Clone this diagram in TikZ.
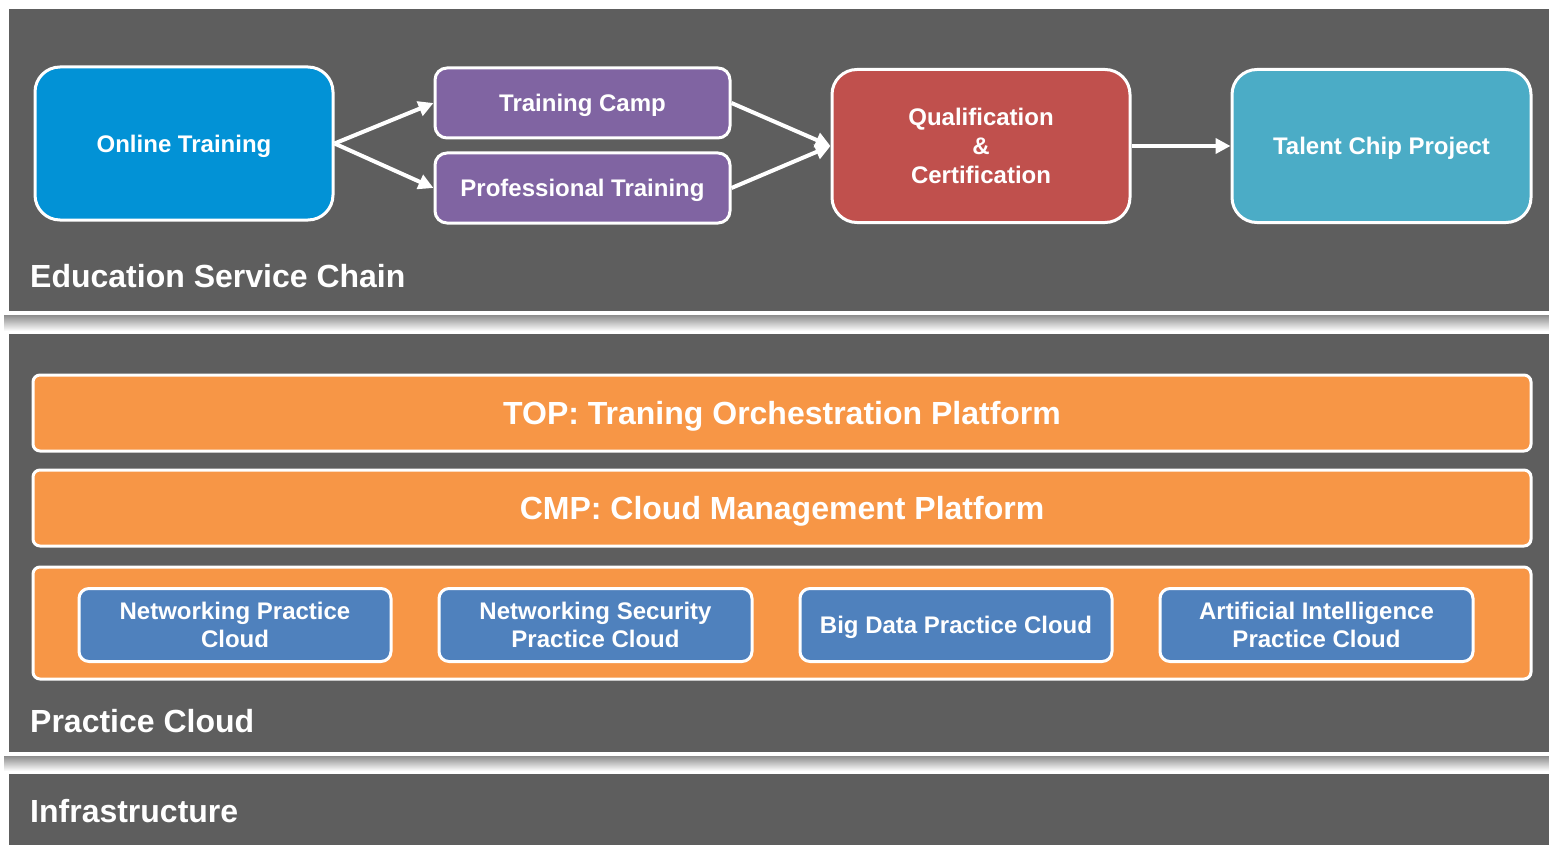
\documentclass[tikz,border=0pt]{standalone}
\usepackage{fontspec}
\setmainfont{Liberation Sans}
\usetikzlibrary{arrows.meta}
\definecolor{panel}{HTML}{5E5E5E}
\definecolor{cblue}{HTML}{0292D6}
\definecolor{cpurple}{HTML}{8064A2}
\definecolor{cred}{HTML}{C0504D}
\definecolor{cteal}{HTML}{4BACC6}
\definecolor{corange}{HTML}{F79646}
\definecolor{cblueb}{HTML}{4F81BD}
\begin{document}
\begin{tikzpicture}[x=1pt,y=-1pt,
  box/.style={draw=white, line width=3pt, text=white, align=center, inner sep=0pt, text depth=0pt,
    font=\fontsize{24}{29}\selectfont\bfseries},
  bigbox/.style={box, rounded corners=25pt, minimum width=298pt, minimum height=153pt},
  purplebox/.style={box, fill=cpurple, rounded corners=12pt, minimum width=295pt, minimum height=70pt},
  orangebar/.style={box, fill=corange, rounded corners=7pt, minimum width=1498pt,
    font=\fontsize{32}{38}\selectfont\bfseries},
  cloudbox/.style={box, fill=cblueb, rounded corners=10pt, minimum width=312pt, minimum height=73pt,
    font=\fontsize{24}{28}\selectfont\bfseries},
  layerlabel/.style={anchor=west, inner sep=0pt, text=white, font=\fontsize{32}{38}\selectfont\bfseries},
  flow/.style={draw=white, line width=4pt, -{Triangle[length=15pt,width=15pt]}},
  panelbg/.style={fill=panel, draw=white, line width=1.2pt},
  shadowband/.style={top color=black!45, bottom color=white}
]
\useasboundingbox (0,0) rectangle (1549,845);
\fill[white] (0,0) rectangle (1549,845);

% layers
\path[panelbg] (8,8) rectangle (1552,312);
\shade[shadowband] (4,315) rectangle (1549,331);
\path[panelbg] (8,333) rectangle (1552,753);
\shade[shadowband] (4,756) rectangle (1549,771);
\path[panelbg] (8,773) rectangle (1552,850);

% education service chain
\node[bigbox, fill=cblue] (ot) at (184,143.5) {Online Training};
\node[purplebox] (tc) at (582.5,103) {Training Camp};
\node[purplebox] (pt) at (582.5,188) {Professional Training};
\node[bigbox, fill=cred] (qc) at (981,146) {Qualification\\\&\\Certification};
\node[bigbox, fill=cteal, minimum width=299pt] (tp) at (1381.5,146) {Talent Chip Project};

\draw[flow] (ot.east) -- (tc.west);
\draw[flow] (ot.east) -- (pt.west);
\draw[flow] (tc.east) -- (qc.west);
\draw[flow] (pt.east) -- (qc.west);
\draw[flow] (qc.east) -- (tp.west);

\node[layerlabel] (l1) at (30,276) {Education Service Chain};

% practice cloud
\node[orangebar, minimum height=76pt] (top) at (782,413) {TOP: Traning Orchestration Platform};
\node[orangebar, minimum height=76pt] (cmp) at (782,508) {CMP: Cloud Management Platform};
\node[orangebar, minimum height=112pt] (pcc) at (782,623) {};
\node[cloudbox] (c1) at (235,625) {Networking Practice\\Cloud};
\node[cloudbox, minimum width=313pt] (c2) at (595.5,625) {Networking Security\\Practice Cloud};
\node[cloudbox] (c3) at (956,625) {Big Data Practice Cloud};
\node[cloudbox, minimum width=313pt] (c4) at (1316.5,625) {Artificial Intelligence\\Practice Cloud};

\node[layerlabel] (l2) at (30,721) {Practice Cloud};
\node[layerlabel] (l3) at (30,811) {Infrastructure};
\end{tikzpicture}
\end{document}
